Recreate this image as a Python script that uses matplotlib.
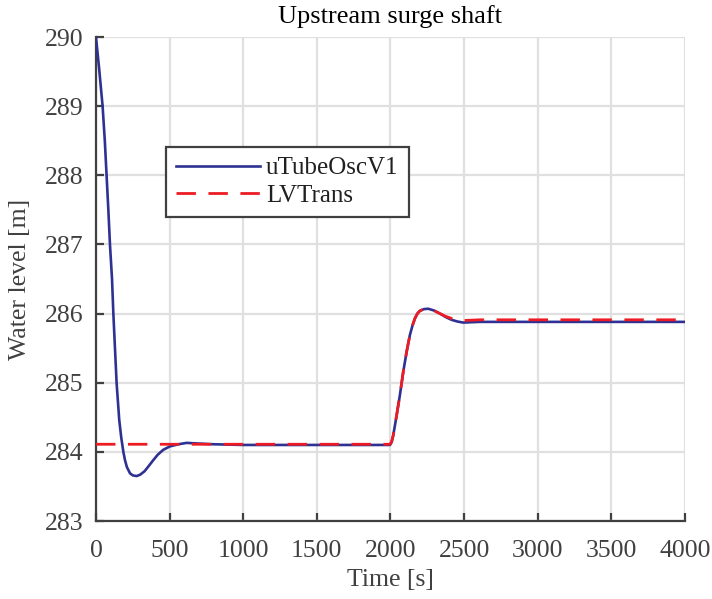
import matplotlib.pyplot as plt

plt.rcParams['font.family'] = ['Liberation Serif', 'DejaVu Serif']

# uTubeOscV1
t_utube = [0, 22, 45, 60, 72, 84, 95, 109, 118, 129, 140, 158, 172, 186, 197, 210, 231, 250, 276,
           300, 330, 360, 389, 420, 457, 503, 560, 616, 700, 800, 1000, 1500, 1997, 2008, 2019,
           2042, 2064, 2087, 2110, 2132, 2150, 2166, 2183, 2200, 2228, 2257, 2295, 2336, 2375,
           2415, 2455, 2494, 2550, 2608, 3000, 3500, 4000]
h_utube = [290.0, 289.53, 289.0, 288.5, 288.0, 287.5, 287.0, 286.5, 286.0, 285.5, 285.0, 284.46,
           284.2, 284.0, 283.88, 283.78, 283.69, 283.66, 283.65, 283.67, 283.72, 283.80, 283.88,
           283.96, 284.03, 284.08, 284.11, 284.13, 284.12, 284.11, 284.10, 284.10, 284.10, 284.14,
           284.24, 284.53, 284.82, 285.16, 285.45, 285.69, 285.83, 285.93, 286.0, 286.04, 286.065,
           286.07, 286.045, 286.00, 285.95, 285.91, 285.885, 285.87, 285.875, 285.88, 285.88,
           285.88, 285.88]

# LVTrans
t_lvtrans = [0, 1000, 1997, 2008, 2019, 2042, 2064, 2087, 2110, 2132, 2150, 2166, 2183, 2200,
             2228, 2257, 2295, 2336, 2375, 2415, 2455, 2494, 2608, 3000, 3500, 4000]
h_lvtrans = [284.11, 284.11, 284.11, 284.15, 284.24, 284.53, 284.82, 285.16, 285.45, 285.69,
             285.83, 285.93, 286.0, 286.04, 286.065, 286.07, 286.045, 286.00, 285.96, 285.93,
             285.91, 285.90, 285.91, 285.91, 285.91, 285.91]

fig = plt.figure(figsize=(7.12, 5.99), dpi=100)
ax = fig.add_axes([0.1348, 0.1302, 0.8272, 0.808])

ax.plot(t_utube, h_utube, color='#2e3192', lw=1.9, label='uTubeOscV1', zorder=3)
ax.plot(t_lvtrans, h_lvtrans, color='#ed1c24', lw=2.0, dashes=(7, 4.5), label='LVTrans', zorder=4)

ax.set_xlim(0, 4000)
ax.set_ylim(283, 290)
ax.set_xticks(range(0, 4001, 500))
ax.set_yticks(range(283, 291))

ax.grid(True, color='#e0e0e0', lw=1.6)
ax.set_axisbelow(True)
for s in ['top', 'right']:
    ax.spines[s].set_visible(False)
for s in ['left', 'bottom']:
    ax.spines[s].set_color('#404040')
    ax.spines[s].set_linewidth(1.6)
ax.tick_params(direction='in', length=6, width=1.6, color='#404040',
               labelcolor='#404040', labelsize=18.5)
ax.tick_params(axis='x', pad=14)
ax.tick_params(axis='y', pad=9)

ax.set_xlabel('Time [s]', fontsize=18.5, color='#404040', labelpad=5)
ax.set_ylabel('Water level [m]', fontsize=18.5, color='#404040', labelpad=10)
ax.set_title('Upstream surge shaft', fontsize=19, pad=10)

leg = ax.legend(loc='upper left', bbox_to_anchor=(0.119, 0.773), fontsize=18,
                handlelength=3.35, fancybox=False, framealpha=1, borderpad=0.4,
                labelspacing=0.2, handletextpad=0.25, borderaxespad=0)
leg.get_frame().set_edgecolor('#404040')
leg.get_frame().set_linewidth(1.6)
for txt in leg.get_texts():
    txt.set_color('#202020')

fig.savefig('out.png', dpi=100)
